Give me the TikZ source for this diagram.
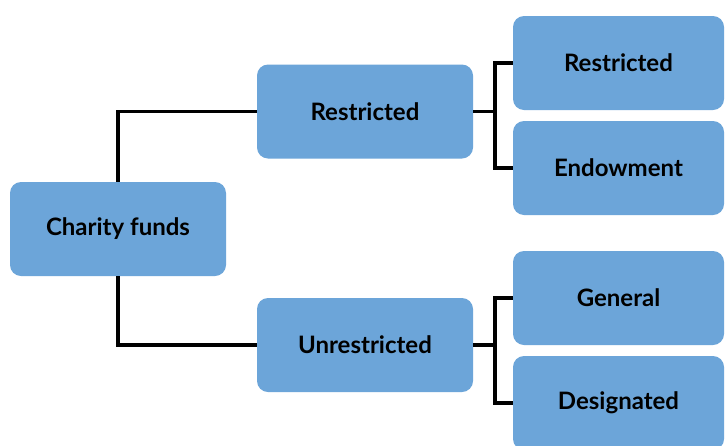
\documentclass[tikz,border=0pt]{standalone}
\usepackage{fontspec}
\setmainfont{Lato}
\definecolor{boxblue}{RGB}{108,165,217}
\begin{document}
\begin{tikzpicture}[x=1pt,y=-1pt,
  fundbox/.style={draw=none,fill=boxblue,rounded corners=11pt,inner sep=0pt,
    minimum width=216pt,minimum height=94pt,font=\fontsize{24}{28}\selectfont\bfseries},
  leafbox/.style={fundbox,minimum width=211pt},
  link/.style={line width=3.5pt,black}]
\useasboundingbox[fill=white] (0,0) rectangle (725,445);
\clip (0,0) rectangle (725,445);
\node[fundbox] (cf) at (118,229) {Charity funds};
\node[fundbox] (r) at (365,111.5) {Restricted};
\node[fundbox] (u) at (365,345) {Unrestricted};
\node[leafbox] (r1) at (618.5,63) {Restricted};
\node[leafbox] (e) at (618.5,168) {Endowment};
\node[leafbox] (g) at (618.5,298) {General};
\node[leafbox] (d) at (618.5,403) {Designated};
\coordinate (rj) at (495,111.5);
\coordinate (uj) at (495,345);
\draw[link] (cf.north) |- (r.west);
\draw[link] (cf.south) |- (u.west);
\draw[link] (r.east) -- (rj);
\draw[link] (r1.west) -| (rj) |- (e.west);
\draw[link] (u.east) -- (uj);
\draw[link] (g.west) -| (uj) |- (d.west);
\end{tikzpicture}
\end{document}
